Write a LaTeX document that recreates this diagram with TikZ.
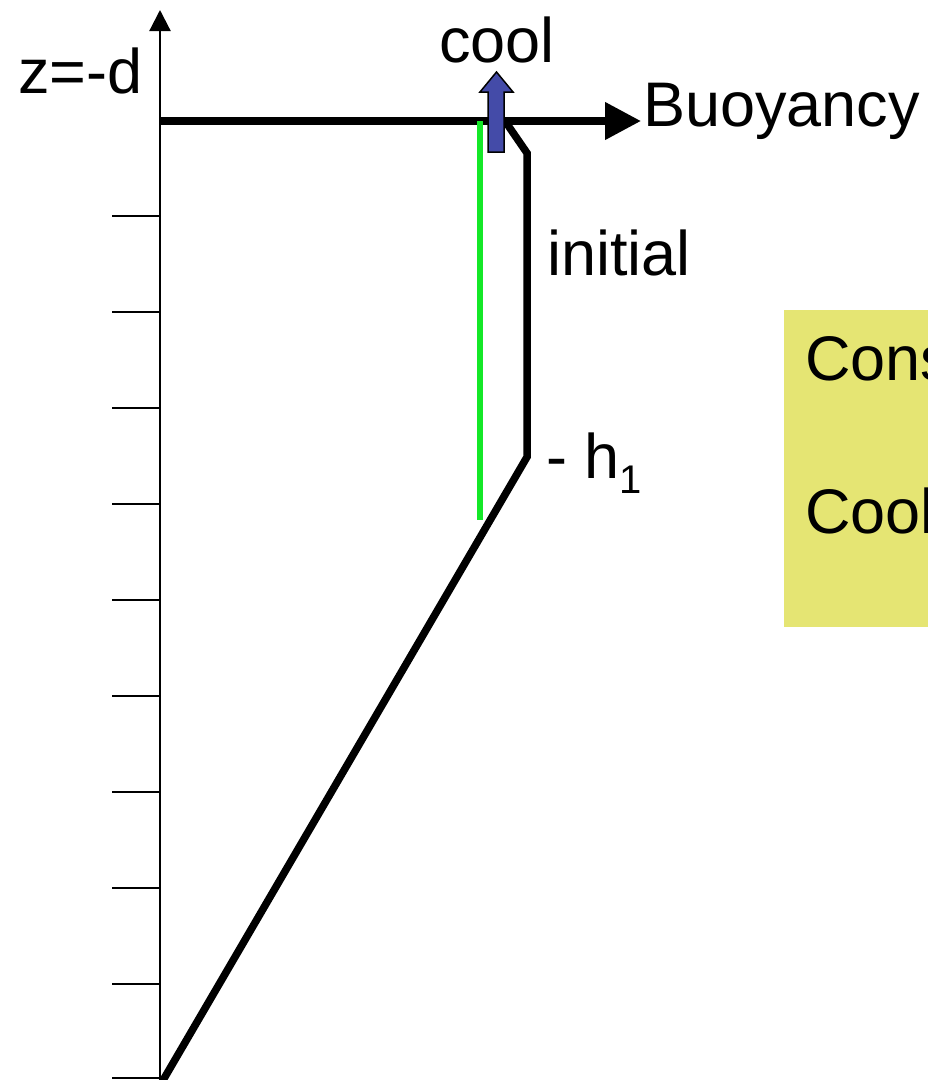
\documentclass[tikz,border=0pt]{standalone}
\usepackage{fontspec}
\setmainfont{Liberation Sans}
\usetikzlibrary{arrows.meta}
\definecolor{boxyellow}{RGB}{229,229,115}
\definecolor{coolblue}{RGB}{68,75,168}
\definecolor{profgreen}{RGB}{20,232,40}
\tikzset{
  lbl/.style={inner sep=0pt, anchor=base west, font=\fontsize{63}{70}\selectfont},
  tick/.style={line width=1.8pt},
  prof/.style={line width=7.5pt, line join=miter},
}
\begin{document}
\begin{tikzpicture}[x=1pt,y=-1pt]
\useasboundingbox (0,0) rectangle (928,1080);
% yellow box
\fill[boxyellow] (784,310) rectangle (940,627);
\node[lbl] (cons) at (805,380) {Cons};
\node[lbl] (coolb) at (805,533) {Cool};
% ticks
\foreach \y in {216,312,408,504,600,696,792,888,984,1078}
  \draw[tick] (112,\y) -- (160,\y);
% vertical axis
\coordinate (axbot) at (160,1080);
\coordinate (axtop) at (160,10);
\draw[line width=2.2pt, -{Triangle[width=21pt,length=21pt]}] (axbot) -- (axtop);
% horizontal axis
\coordinate (hstart) at (160,121);
\coordinate (hend) at (641,121);
\draw[line width=7.5pt, -{Triangle[width=36pt,length=36pt]}] (hstart) -- (hend);
% profile
\coordinate (p0) at (505,121);
\coordinate (p1) at (527,153);
\coordinate (p2) at (527,457);
\coordinate (p3) at (162,1082);
\draw[prof] (p0) -- (p1) -- (p2) -- (p3);
% green
\coordinate (g0) at (480,121);
\coordinate (g1) at (480,520);
\draw[profgreen, line width=6pt] (g0) -- (g1);
% blue arrow
\filldraw[fill=coolblue, draw=black, line width=1.5pt]
  (488,152) -- (488,92) -- (480,92) -- (496.5,72) -- (513,92) -- (504,92) -- (504,152) -- cycle;
% labels
\node[lbl] (zd) at (18,93) {z=-d};
\node[lbl] (cool) at (439,62) {cool};
\node[lbl] (buoy) at (643,126) {Buoyancy};
\node[lbl] (init) at (547,275) {initial};
\node[lbl] (h1) at (546,478) {- h\raisebox{-15pt}{\fontsize{40}{40}\selectfont 1}};
\end{tikzpicture}
\end{document}
